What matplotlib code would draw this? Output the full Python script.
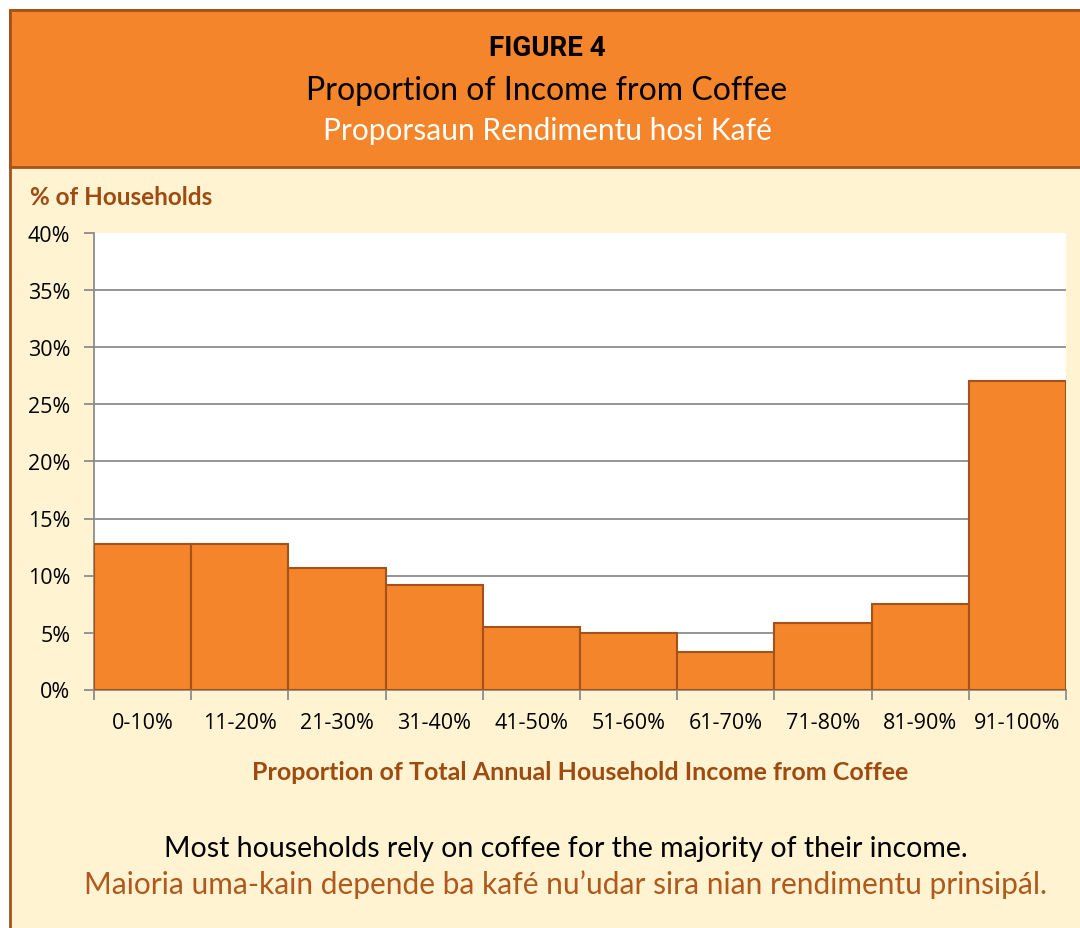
import matplotlib
matplotlib.use('Agg')
import matplotlib.pyplot as plt
from matplotlib.patches import Rectangle

# data
categories = ['0-10%', '11-20%', '21-30%', '31-40%', '41-50%',
              '51-60%', '61-70%', '71-80%', '81-90%', '91-100%']
households = [12.8, 12.8, 10.7, 9.2, 5.45, 5.0, 3.3, 5.85, 7.5, 27.1]
yticks = [0, 5, 10, 15, 20, 25, 30, 35, 40]

W, H = 1080, 929
ORANGE = '#F5852A'
BROWN = '#A5521A'
CREAM = '#FFF3D1'
GRID = '#8C8C8C'


def px(x, y):
    # pixel coords (top-left origin) to figure fraction
    return x / W, 1 - y / H


fig = plt.figure(figsize=(W / 100, H / 100), dpi=100)
fig.patch.set_facecolor('white')

# frame: cream body and orange header
fig.patches.append(Rectangle(px(10, 935), 1.0, (935 - 11) / H,
                             transform=fig.transFigure, facecolor=CREAM,
                             edgecolor=BROWN, linewidth=2, zorder=-2))
fig.patches.append(Rectangle(px(10, 168), 1.0, (168 - 11) / H,
                             transform=fig.transFigure, facecolor=ORANGE,
                             edgecolor=BROWN, linewidth=2, zorder=-1))

# header text
fig.text(*px(547, 48), 'FIGURE 4', ha='center', va='center',
         fontsize=20, fontweight='bold', family='Roboto', color='black')
fig.text(*px(547, 91), 'Proportion of Income from Coffee', ha='center',
         va='center', fontsize=23, family='Lato', color='black')
fig.text(*px(547, 131), 'Proporsaun Rendimentu hosi Kafé', ha='center',
         va='center', fontsize=21.5, family='Lato', color='white')

fig.text(*px(30, 198), '% of Households', ha='left', va='center',
         fontsize=17.5, fontweight='bold', family='Lato', color='#9E4B12')

# plot area
ax = fig.add_axes([94 / W, (H - 690.5) / H, 972 / W, 456 / H])
ax.set_facecolor('white')
x = list(range(len(categories)))
ax.bar(x, households, width=1.0, color=ORANGE, edgecolor=BROWN,
       linewidth=1.5, zorder=3)

ax.set_xlim(-0.5, len(categories) - 0.5)
ax.set_ylim(0, 40)
ax.set_yticks(yticks)
ax.set_yticklabels(['{}%'.format(t) for t in yticks])
ax.yaxis.grid(True, color=GRID, linewidth=1.3, zorder=0)
ax.set_axisbelow(True)

# major ticks on bar edges, labels on minor ticks at bar centres
ax.set_xticks([i - 0.5 for i in range(len(categories) + 1)])
ax.set_xticklabels([])
ax.set_xticks(x, minor=True)
ax.set_xticklabels(categories, minor=True)
ax.tick_params(axis='x', which='minor', length=0, pad=16)
ax.tick_params(axis='both', which='major', length=7, width=1.3,
               color=GRID, direction='out')
ax.tick_params(axis='y', pad=10)
for lab in ax.get_xticklabels(minor=True) + ax.get_yticklabels():
    lab.set_family('Open Sans')
    lab.set_fontsize(15.5)
    lab.set_color('black')

for side in ['top', 'right']:
    ax.spines[side].set_visible(False)
for side in ['left', 'bottom']:
    ax.spines[side].set_color(GRID)
    ax.spines[side].set_linewidth(1.3)

fig.text(*px(580, 773), 'Proportion of Total Annual Household Income from Coffee',
         ha='center', va='center', fontsize=18, fontweight='bold',
         family='Lato', color='#9E4B12')

# caption
fig.text(*px(566, 849),
         'Most households rely on coffee for the majority of their income.',
         ha='center', va='center', fontsize=20.5, family='Lato', color='black')
fig.text(*px(566, 885),
         'Maioria uma-kain depende ba kafé nu\u2019udar sira nian rendimentu prinsipál.',
         ha='center', va='center', fontsize=21.5, family='Lato', color='#B0591C')

fig.savefig('out.png', dpi=100, facecolor=fig.get_facecolor())
